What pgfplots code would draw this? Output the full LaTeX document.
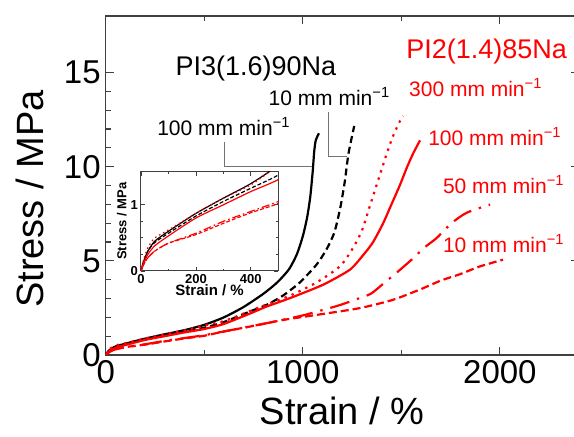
\documentclass[border=0pt]{standalone}
\usepackage{fontspec}
\setmainfont{Liberation Sans}
\usepackage{pgfplots}
\usepackage{pgfplotstable}
\pgfplotsset{compat=1.18}

\pgfplotstableread{
x y
0 0
10 0.15
25 0.3
50 0.45
100 0.6
200 0.87
300 1.1
400 1.32
500 1.6
600 2.0
700 2.55
800 3.25
870 3.85
930 4.55
970 5.35
1000 6.3
1022 7.3
1038 8.4
1050 9.7
1058 10.8
1066 11.4
1082 11.77
}\blacksolid

\pgfplotstableread{
x y
0 0
10 0.15
25 0.3
50 0.43
100 0.57
200 0.83
300 1.05
400 1.25
500 1.45
600 1.75
732 2.31
816 2.66
899 3.15
985 3.85
1070 4.8
1120 5.6
1160 6.5
1190 7.8
1213 9.2
1232 10.7
1261 12.16
}\blackdashed

\pgfplotstableread{
x y
0 0
10 0.18
25 0.35
50 0.5
100 0.62
200 0.87
300 1.1
400 1.3
470 1.5
600 1.8
700 2.2
833 2.75
935 3.15
1070 3.85
1188 4.7
1250 5.6
1300 6.6
1340 7.9
1380 9.2
1420 10.5
1457 11.6
1492 12.4
1509 12.69
}\reddotted

\pgfplotstableread{
x y
0 0
10 0.12
25 0.25
50 0.38
100 0.53
200 0.8
300 1.0
400 1.2
500 1.38
600 1.65
732 2.2
816 2.57
935 3.02
1103 3.73
1239 4.53
1310 5.35
1357 6.0
1408 7.0
1450 8.0
1492 9.0
1530 10.0
1560 10.7
1595 11.4
}\redsolid

\pgfplotstableread{
x y
0 0
10 0.1
25 0.2
50 0.3
100 0.42
200 0.57
300 0.75
400 0.9
500 1.05
600 1.25
700 1.45
800 1.65
935 1.95
1011 2.13
1179 2.62
1264 2.93
1345 3.25
1410 3.8
1484 4.44
1552 5.06
1619 5.72
1678 6.2
1755 7.0
1831 7.55
1950 7.99
}\reddashdot

\pgfplotstableread{
x y
0 0
10 0.1
25 0.2
50 0.3
100 0.42
200 0.55
300 0.72
400 0.88
500 1.02
600 1.25
732 1.51
900 1.86
1103 2.18
1290 2.49
1458 2.93
1600 3.5
1700 3.95
1800 4.3
1898 4.7
2016 5.06
}\reddashed

\begin{document}
\begin{tikzpicture}
\begin{axis}[
  at={(0,0)}, anchor=south west,
  scale only axis,
  width=236.5pt, height=169.5pt,
  xmin=0, xmax=2400, ymin=0, ymax=18,
  xtick={0,1000,2000}, ytick={0,5,10,15},
  minor x tick num=1, minor y tick num=4,
  tick align=inside, tick pos=both,
  major tick length=4pt, minor tick length=2.5pt,
  axis line style={black!75, line width=0.7pt},
  every tick/.style={black!75, line width=0.6pt},
  /pgf/number format/assume math mode=true,
  /pgf/number format/1000 sep={},
  tick label style={font=\fontsize{16.5}{18}\selectfont},
  xticklabel style={yshift=1pt},
  yticklabel style={xshift=1pt},
  xlabel={Strain / \%}, ylabel={Stress / MPa},
  label style={font=\fontsize{19}{22}\selectfont},
  xlabel style={at={(axis description cs:0.5,-0.165)}, anchor=center},
  ylabel style={at={(axis description cs:-0.16,0.46)}, anchor=center},
  clip=true,
  every axis plot/.append style={smooth, tension=0.4},
]
\addplot[black, line width=1.1pt] table {\blacksolid};
\addplot[black, line width=1.1pt, dash pattern=on 3.5pt off 2pt] table {\blackdashed};
\addplot[red, line width=1.1pt, dash pattern=on 1.2pt off 2.6pt] table {\reddotted};
\addplot[red, line width=1.1pt] table {\redsolid};
\addplot[red, line width=1.1pt, dash pattern=on 10pt off 4pt on 1.2pt off 4pt] table {\reddashdot};
\addplot[red, line width=1.1pt, dash pattern=on 4pt off 2pt] table {\reddashed};

\draw[black!55, line width=0.5pt] (axis cs:605,11.29) -- (axis cs:605,9.99) -- (axis cs:1045,9.99);
\draw[black!55, line width=0.5pt] (axis cs:1132,12.89) -- (axis cs:1132,10.56) -- (axis cs:1222,10.56);

\node[font=\fontsize{13.5}{15}\selectfont] at (axis cs:762,15.23) {PI3(1.6)90Na};
\node[font=\fontsize{13.5}{15}\selectfont, text=red] at (axis cs:1933,16.13) {PI2(1.4)85Na};
\node[font=\fontsize{10.5}{12}\selectfont] at (axis cs:1135,13.71) {10 mm min\textsuperscript{−1}};
\node[font=\fontsize{10.5}{12}\selectfont] at (axis cs:600,12.14) {100 mm min\textsuperscript{−1}};
\node[font=\fontsize{10.5}{12}\selectfont, text=red] at (axis cs:1878,14.22) {300 mm min\textsuperscript{−1}};
\node[font=\fontsize{10.5}{12}\selectfont, text=red] at (axis cs:1975,11.61) {100 mm min\textsuperscript{−1}};
\node[font=\fontsize{10.5}{12}\selectfont, text=red] at (axis cs:2020,9.05) {50 mm min\textsuperscript{−1}};
\node[font=\fontsize{10.5}{12}\selectfont, text=red] at (axis cs:2020,5.91) {10 mm min\textsuperscript{−1}};
\end{axis}

\begin{axis}[
  at={(17.65pt,42pt)}, anchor=south west,
  scale only axis,
  width=68.65pt, height=49.65pt,
  xmin=0, xmax=500, ymin=0, ymax=1.5,
  xtick={0,200,400}, ytick={0,1},
  minor x tick num=1, minor y tick num=3,
  tick align=inside, tick pos=both,
  major tick length=2pt, minor tick length=1.2pt,
  axis background/.style={fill=white},
  axis line style={black!75, line width=0.5pt},
  every tick/.style={black!75, line width=0.4pt},
  /pgf/number format/assume math mode=true,
  tick label style={font=\fontsize{6.5}{7}\selectfont\bfseries},
  xticklabel style={yshift=2pt},
  yticklabel style={xshift=2pt},
  xlabel={Strain / \%}, ylabel={Stress / MPa},
  xlabel style={font=\fontsize{7.5}{8}\selectfont\bfseries, at={(axis description cs:0.5,-0.19)}, anchor=center},
  ylabel style={font=\fontsize{6.5}{7}\selectfont\bfseries, at={(axis description cs:-0.14,0.5)}, anchor=center},
  clip=true,
  every axis plot/.append style={smooth, tension=0.4},
]
\addplot[black, line width=0.6pt] table {\blacksolid};
\addplot[black, line width=0.6pt, dash pattern=on 2pt off 1pt] table {\blackdashed};
\addplot[red, line width=0.6pt, dash pattern=on 0.8pt off 1.5pt] table {\reddotted};
\addplot[red, line width=0.6pt] table {\redsolid};
\addplot[red, line width=0.6pt, dash pattern=on 4pt off 1.5pt on 0.8pt off 1.5pt] table {\reddashdot};
\addplot[red, line width=0.6pt, dash pattern=on 2pt off 1pt] table {\reddashed};
\end{axis}

\pgfresetboundingbox
\useasboundingbox (-52.85pt,-41pt) rectangle (234.15pt,177.5pt);
\end{tikzpicture}
\end{document}
